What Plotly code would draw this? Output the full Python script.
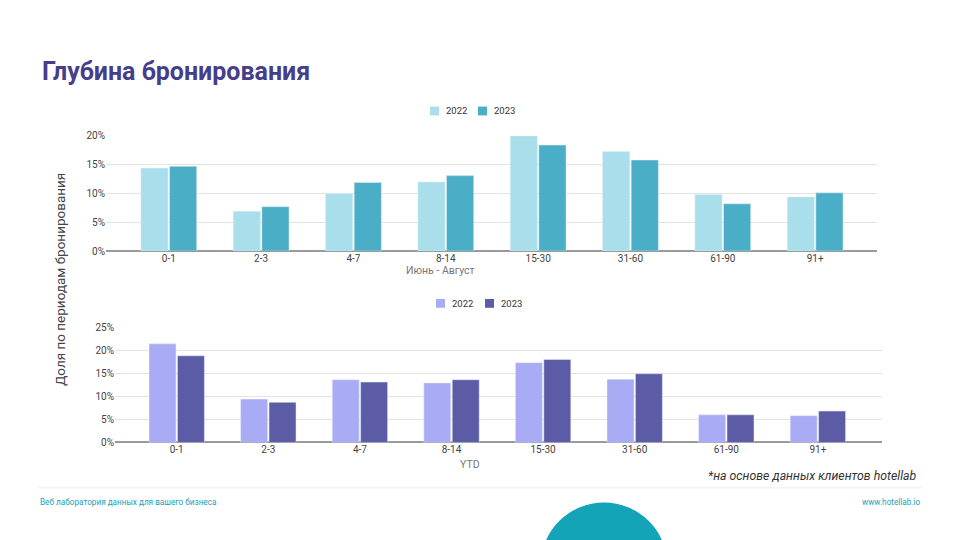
import plotly.graph_objects as go

categories = ["0-1", "2-3", "4-7", "8-14", "15-30", "31-60", "61-90", "91+"]
summer_2022 = [14.4, 6.9, 10.0, 12.0, 20.0, 17.3, 9.8, 9.4]
summer_2023 = [14.7, 7.7, 11.9, 13.1, 18.4, 15.8, 8.2, 10.1]
ytd_2022 = [21.4, 9.4, 13.6, 12.9, 17.3, 13.7, 6.0, 5.8]
ytd_2023 = [18.8, 8.7, 13.1, 13.6, 18.0, 14.9, 6.0, 6.8]
top_ticks = [0, 5, 10, 15, 20]
top_labels = ["0%", "5%", "10%", "15%", "20%"]
bottom_ticks = [0, 5, 10, 15, 20, 25]
bottom_labels = ["0%", "5%", "10%", "15%", "20%", "25%"]

W, H = 960, 540
def px(x):
    return x / W
def py(y):
    return 1 - y / H

fig = go.Figure()
fig.add_trace(go.Bar(x=categories, y=summer_2022, name="2022", marker_color="#a8dfea",
                     xaxis="x", yaxis="y", showlegend=False))
fig.add_trace(go.Bar(x=categories, y=summer_2023, name="2023", marker_color="#4aaec6",
                     xaxis="x", yaxis="y", showlegend=False))
fig.add_trace(go.Bar(x=categories, y=ytd_2022, name="2022", marker_color="#a9acf5",
                     xaxis="x2", yaxis="y2", showlegend=False))
fig.add_trace(go.Bar(x=categories, y=ytd_2023, name="2023", marker_color="#5b5ba6",
                     xaxis="x2", yaxis="y2", showlegend=False))

tickfont = dict(family="Roboto", size=10, color="#444444")
grid = "#e3e3e3"

fig.update_layout(
    width=W, height=H, margin=dict(l=0, r=0, t=0, b=0),
    paper_bgcolor="white", plot_bgcolor="white",
    barmode="group", bargap=0.38, bargroupgap=0.05,
    font=dict(family="Roboto", color="#333333"),
    xaxis=dict(domain=[px(106), px(877)], anchor="y", range=[-0.68, 7.67],
               tickfont=tickfont, showgrid=False, showline=False, ticks="", zeroline=False),
    yaxis=dict(domain=[py(250.7), py(133.3)], anchor="x", range=[0, 20],
               tickvals=top_ticks, ticktext=top_labels, tickfont=tickfont,
               gridcolor=grid, gridwidth=1, zeroline=True, zerolinecolor="#9a9a9a",
               zerolinewidth=1.5, ticks="", showline=False),
    xaxis2=dict(domain=[px(115), px(882)], anchor="y2", range=[-0.674, 7.70],
                tickfont=tickfont, showgrid=False, showline=False, ticks="", zeroline=False),
    yaxis2=dict(domain=[py(445.7), py(328.3)], anchor="x2", range=[0, 25],
                tickvals=bottom_ticks, ticktext=bottom_labels, tickfont=tickfont,
                gridcolor=grid, gridwidth=1, zeroline=True, zerolinecolor="#9a9a9a",
                zerolinewidth=1.5, ticks="", showline=False),
)

ann = []
def text(x, y, s, size, color, xanchor="left", yanchor="middle", bold=False, italic=False,
         family="Roboto", angle=0):
    t = s
    if bold:
        t = "<b>" + t + "</b>"
    if italic:
        t = "<i>" + t + "</i>"
    ann.append(dict(x=px(x), y=py(y), xref="paper", yref="paper", text=t, showarrow=False,
                    xanchor=xanchor, yanchor=yanchor, textangle=angle,
                    font=dict(family=family, size=size, color=color)))

text(40, 68, "Глубина бронирования", 25, "#453e8b", bold=True)
text(60, 280, "Доля по периодам бронирования", 13.5, "#444444", xanchor="center", angle=-90)
text(440, 271, "Июнь - Август", 10.5, "#777777", xanchor="center")
text(470, 468, "YTD", 10.5, "#777777", xanchor="center")
text(919, 480, "*на основе данных клиентов hotellab", 12.3, "#333333", xanchor="right", italic=True)
text(38, 506, "Веб лаборатория данных для вашего бизнеса", 8.2, "#1a9fb5")
text(923, 506, "www.hotellab.io", 8.2, "#1a9fb5", xanchor="right")

# legends
def legend(x, y, label, color):
    fig.add_shape(type="rect", xref="paper", yref="paper",
                  x0=px(x), x1=px(x + 9), y0=py(y + 4.5), y1=py(y - 4.5),
                  fillcolor=color, line=dict(width=0))
    text(x + 14, y, label, 9.5, "#333333")

legend(430, 108, "2022", "#a8dfea")
legend(478, 108, "2023", "#4aaec6")
legend(436, 304, "2022", "#a9acf5")
legend(485, 304, "2023", "#5b5ba6")

fig.update_layout(annotations=ann)

fig.add_shape(type="line", xref="paper", yref="paper", x0=px(38), x1=px(922),
              y0=py(492), y1=py(492), line=dict(color="#eeeeee", width=1))
fig.add_shape(type="circle", xref="paper", yref="paper", x0=px(541), x1=px(667),
              y0=py(633), y1=py(507), fillcolor="#13a4b8", line=dict(width=0))

fig.write_html("out.html", config={"displayModeBar": False},
               post_script="document.body.style.margin='0';document.body.style.overflow='hidden';")
